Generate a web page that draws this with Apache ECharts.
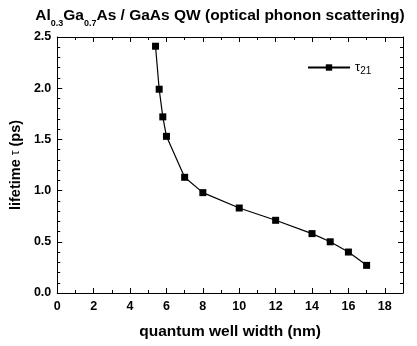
<!DOCTYPE html>
<html><head><meta charset="utf-8">
<script src="https://cdn.jsdelivr.net/npm/echarts@6/dist/echarts.min.js"></script>
<style>html,body{margin:0;padding:0;background:#fff}#c{width:417px;height:346px}</style>
</head><body><div id="c"></div>
<script>
const widths = [5.4, 5.6, 5.8, 6, 7, 8, 10, 12, 14, 15, 16, 17];
const tau21 = [2.41, 1.99, 1.72, 1.53, 1.13, 0.98, 0.83, 0.71, 0.58, 0.50, 0.40, 0.27];
const seriesName = 'τ21';

const chart = echarts.init(document.getElementById('c'));
const F = 'Liberation Sans, Arial, sans-serif';
const axisCommon = {
  axisLine: {show: true, onZero: false, lineStyle: {color: '#000', width: 1}},
  axisTick: {show: true, inside: true, length: 5, lineStyle: {color: '#000'}},
  splitLine: {show: false}
};
chart.setOption({
  animation: false,
  backgroundColor: '#fff',
  title: {
    text: '{b|Al}{s|0.3}{b|Ga}{s|0.7}{b|As / GaAs QW (optical phonon scattering)}',
    left: 215, top: 3, textAlign: 'center',
    textStyle: {fontWeight: 'bold', rich: {
      b: {fontFamily: F, fontWeight: 'bold', fontSize: 15.5, color: '#000', verticalAlign: 'bottom'},
      s: {fontFamily: F, fontWeight: 'bold', fontSize: 9, color: '#000', verticalAlign: 'bottom', padding: [0,0,-4,0]}
    }}
  },
  grid: {left: 56, right: 14, top: 37, bottom: 53},
  legend: {
    show: true, left: 302, top: 56, itemWidth: 42, itemHeight: 8, itemGap: 4,
    data: [{name: seriesName}],
    formatter: () => '{t|τ}{s|21}',
    textStyle: {rich: {
      t: {fontFamily: F, fontSize: 13, color: '#000'},
      s: {fontFamily: F, fontSize: 10, color: '#000', padding: [0,0,-8,0]}
    }}
  },
  xAxis: [
    Object.assign({}, axisCommon, {
      type: 'value', min: 0, max: 19, interval: 2, position: 'bottom',
      minorTick: {show: true, splitNumber: 2, length: 3, lineStyle: {color: '#000'}},
      name: 'quantum well width (nm)', nameLocation: 'middle', nameGap: 31,
      nameTextStyle: {fontFamily: F, fontWeight: 'bold', fontSize: 15.5, color: '#000'},
      axisLabel: {showMaxLabel: false, fontFamily: F, fontWeight: 'bold', fontSize: 12.5, color: '#000', margin: 7,
        formatter: v => (v % 2 === 0 ? String(v) : '')}
    }),
    Object.assign({}, axisCommon, {
      type: 'value', min: 0, max: 19, interval: 2, position: 'top',
      minorTick: {show: true, splitNumber: 2, length: 3, lineStyle: {color: '#000'}},
      axisLabel: {show: false}
    })
  ],
  yAxis: [
    Object.assign({}, axisCommon, {
      type: 'value', min: 0, max: 2.5, interval: 0.5, position: 'left',
      minorTick: {show: true, splitNumber: 5, length: 3, lineStyle: {color: '#000'}},
      name: '{b|lifetime }{t|τ}{b| (ps)}', nameLocation: 'middle', nameGap: 26,
      nameTextStyle: {rich: {
        b: {fontFamily: F, fontWeight: 'bold', fontSize: 14.5, color: '#000'},
        t: {fontFamily: F, fontSize: 12, color: '#000'}
      }},
      axisLabel: {fontFamily: F, fontWeight: 'bold', fontSize: 12.5, color: '#000', margin: 6,
        formatter: v => v.toFixed(1)}
    }),
    Object.assign({}, axisCommon, {
      type: 'value', min: 0, max: 2.5, interval: 0.5, position: 'right',
      minorTick: {show: true, splitNumber: 5, length: 3, lineStyle: {color: '#000'}},
      axisLabel: {show: false}
    })
  ],
  series: [{
    name: seriesName, type: 'line', xAxisIndex: 0, yAxisIndex: 0,
    data: widths.map((w, i) => [w, tau21[i]]),
    symbol: 'rect', symbolSize: 7,
    lineStyle: {color: '#000', width: 1.2},
    itemStyle: {color: '#000'}
  }]
});
</script></body></html>
